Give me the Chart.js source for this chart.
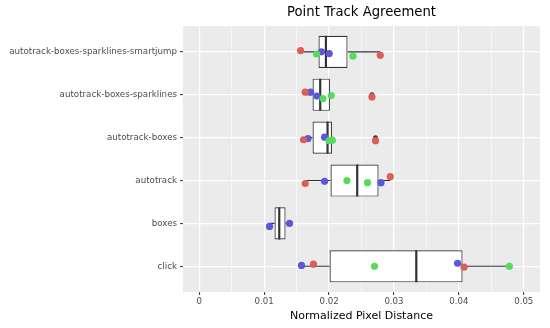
<!DOCTYPE html>
<html><head><meta charset="utf-8">
<script src="https://cdn.jsdelivr.net/npm/chart.js@4.4.1/dist/chart.umd.min.js"></script>
<style>html,body{margin:0;padding:0;background:#fff;}#wrap{width:550px;height:328px;position:relative;}</style>
</head><body><div id="wrap"><canvas id="c"></canvas></div>
<script>
// ---- data ----
const categories = ['autotrack-boxes-sparklines-smartjump','autotrack-boxes-sparklines','autotrack-boxes','autotrack','boxes','click'];
const whiskerLow  = [0.01561, 0.01633, 0.01607, 0.01633, 0.01083, 0.01576];
const boxQ1       = [0.01838, 0.01746, 0.01746, 0.02023, 0.01160, 0.02008];
const boxMedian   = [0.01952, 0.01864, 0.01977, 0.02434, 0.01233, 0.03344];
const boxQ3       = [0.02285, 0.02014, 0.02045, 0.02763, 0.01330, 0.04057];
const whiskerHigh = [0.02789, 0.02034, 0.02045, 0.02943, 0.01391, 0.04777];
const outliers    = [[], [0.02661], [0.02716], [], [], []];
const redValues   = [[0.01561,0.02789],[0.01633,0.02661],[0.01607,0.02716],[0.01633,0.02943],[],[0.01761,0.04079]];
const redJitter   = [[-0.03,0.08],[-0.06,0.05],[0.05,0.07],[0.07,-0.09],[],[-0.05,0.02]];
const greenValues = [[0.01807,0.02368],[0.01906,0.02034],[0.02000,0.02050],[0.02276,0.02593],[],[0.02701,0.04777]];
const greenJitter = [[0.05,0.10],[0.09,0.02],[0.07,0.06],[0.00,0.05],[],[0.00,0.00]];
const blueValues  = [[0.01884,0.02003],[0.01715,0.01814],[0.01675,0.01931],[0.01931,0.02800],[0.01083,0.01391],[0.01576,0.03980]];
const blueJitter  = [[0.00,0.04],[-0.06,0.03],[0.02,-0.01],[0.02,0.05],[0.07,0.00],[-0.02,-0.07]];
const xTickValues = [0, 0.01, 0.02, 0.03, 0.04, 0.05];
const xTickLabels = ['0', '0.01', '0.02', '0.03', '0.04', '0.05'];
const xMinorTicks = [0.005, 0.015, 0.025, 0.035, 0.045];
const titleText = 'Point Track Agreement';
const xTitleText = 'Normalized Pixel Distance';

// ---- build datasets ----
function points(values, jitter) {
  const out = [];
  values.forEach((row, i) => row.forEach((v, k) => out.push({x: v, y: i + jitter[i][k]})));
  return out;
}
const whiskerData = [];
categories.forEach((c, i) => {
  whiskerData.push({x: whiskerLow[i], y: i}, {x: boxQ1[i], y: i}, {x: null, y: null});
  whiskerData.push({x: boxQ3[i], y: i}, {x: whiskerHigh[i], y: i}, {x: null, y: null});
});
const BOX_HALF = 0.375;
const medianData = [];
categories.forEach((c, i) => {
  medianData.push({x: boxMedian[i], y: i - BOX_HALF}, {x: boxMedian[i], y: i + BOX_HALF}, {x: null, y: null});
});
const outlierData = [];
outliers.forEach((row, i) => row.forEach(v => outlierData.push({x: v, y: i})));

const isMajor = v => xTickValues.some(t => Math.abs(t - v) < 1e-9);

Chart.defaults.font.family = "'DejaVu Sans', sans-serif";
Chart.defaults.color = '#4D4D4D';

const bgPlugin = {
  id: 'panelBg',
  beforeDraw(chart) {
    const a = chart.chartArea, ctx = chart.ctx;
    ctx.save();
    ctx.fillStyle = '#EBEBEB';
    ctx.fillRect(a.left, a.top, a.right - a.left, a.bottom - a.top);
    ctx.restore();
  }
};

new Chart(document.getElementById('c'), {
  type: 'scatter',
  data: {
    datasets: [
      {type: 'line', data: whiskerData, borderColor: '#333333', borderWidth: 1.1, pointRadius: 0, spanGaps: false, fill: false, order: 4},
      {type: 'bar', indexAxis: 'y', data: categories.map((c, i) => ({y: i, x: [boxQ1[i], boxQ3[i]]})),
        backgroundColor: '#FFFFFF', borderColor: '#333333', borderWidth: 1.2, borderSkipped: false,
        barPercentage: 0.75, categoryPercentage: 1, order: 3},
      {type: 'line', data: medianData, borderColor: '#333333', borderWidth: 2.2, pointRadius: 0, spanGaps: false, fill: false, order: 2},
      {type: 'scatter', data: outlierData, backgroundColor: '#333333', borderWidth: 0, pointRadius: 2.4, order: 1},
      {type: 'scatter', data: points(redValues, redJitter), backgroundColor: '#DB5F57', borderWidth: 0, pointRadius: 3.6, order: 0},
      {type: 'scatter', data: points(greenValues, greenJitter), backgroundColor: '#57DB5F', borderWidth: 0, pointRadius: 3.6, order: 0},
      {type: 'scatter', data: points(blueValues, blueJitter), backgroundColor: '#5F57DB', borderWidth: 0, pointRadius: 3.6, order: 0}
    ]
  },
  options: {
    responsive: true,
    maintainAspectRatio: false,
    animation: false,
    events: [],
    layout: {padding: {left: 0, right: 10, top: 0, bottom: 0}},
    plugins: {
      legend: {display: false},
      tooltip: {enabled: false},
      title: {display: true, text: titleText, color: '#000000', fullSize: false,
        font: {size: 13.2, weight: 'normal'}, padding: {top: 5, bottom: 5.3}}
    },
    scales: {
      x: {
        type: 'linear', min: -0.0025, max: 0.0525, offset: false,
        afterBuildTicks: s => { s.ticks = xTickValues.concat(xMinorTicks).sort((a, b) => a - b).map(v => ({value: v})); },
        afterFit: s => { s.height = 36; },
        ticks: {
          autoSkip: false, maxRotation: 0, padding: 2, color: '#4D4D4D', font: {size: 8.6},
          callback: v => { const k = xTickValues.findIndex(t => Math.abs(t - v) < 1e-9); return k >= 0 ? xTickLabels[k] : ''; }
        },
        grid: {
          offset: false, color: '#FFFFFF', drawTicks: true, tickLength: 3,
          lineWidth: ctx => (ctx.tick && isMajor(ctx.tick.value)) ? 1.2 : 0.55,
          tickColor: ctx => (ctx.tick && isMajor(ctx.tick.value)) ? '#333333' : 'rgba(0,0,0,0)',
          tickWidth: 1
        },
        border: {display: false},
        title: {display: true, text: xTitleText, color: '#000000', font: {size: 11}, padding: {top: 0, bottom: 5.5}}
      },
      y: {
        type: 'linear', min: -0.6, max: 5.6, reverse: true, offset: false,
        afterBuildTicks: s => { s.ticks = categories.map((c, i) => ({value: i})); },
        afterFit: s => { s.width = 183; },
        ticks: {autoSkip: false, padding: 3, color: '#4D4D4D', font: {size: 8.7},
          callback: v => categories[v] !== undefined ? categories[v] : ''},
        grid: {offset: false, color: '#FFFFFF', lineWidth: 1.2, tickLength: 3, tickColor: '#333333', tickWidth: 1},
        border: {display: false}
      }
    }
  },
  plugins: [bgPlugin]
});
</script>
</body></html>
